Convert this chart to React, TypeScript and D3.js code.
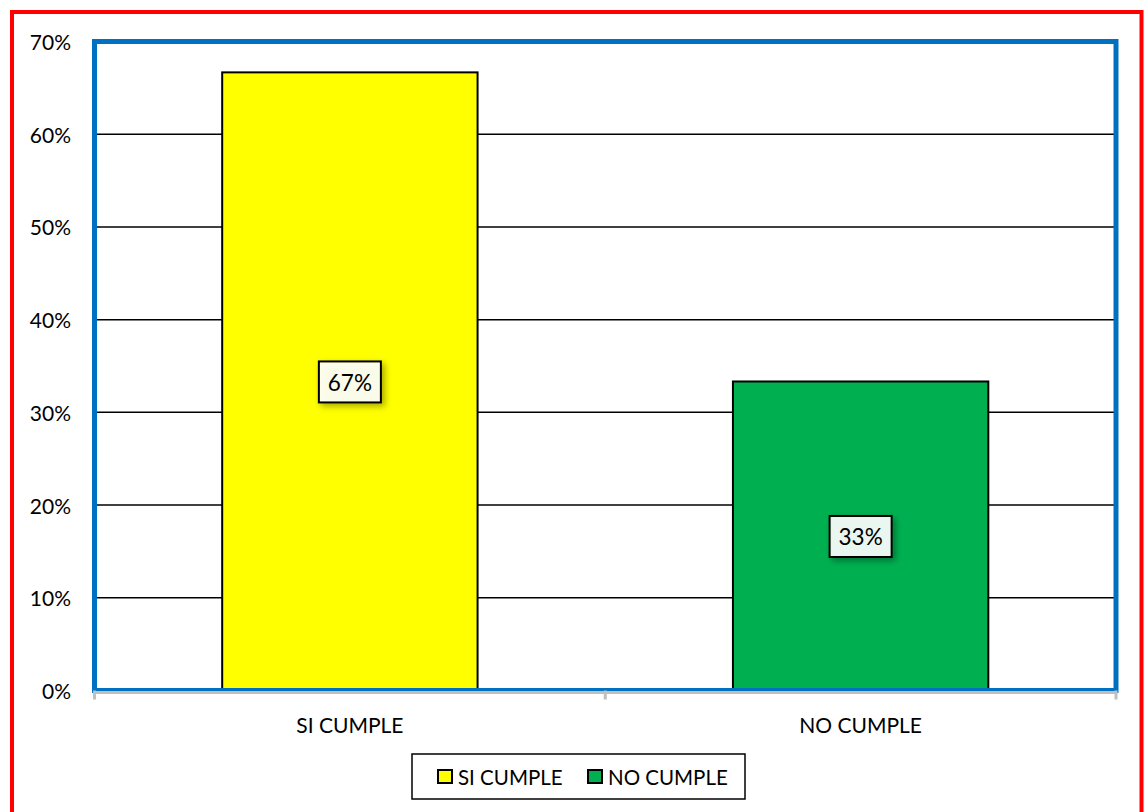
import React from "react";
import * as d3 from "d3";

const categories = ["SI CUMPLE", "NO CUMPLE"];
const values = [0.6667, 0.3333];
const colors = ["#FFFF00", "#00B050"];
const yTicks = [0, 0.1, 0.2, 0.3, 0.4, 0.5, 0.6, 0.7];

const W = 1144;
const H = 812;
const plot = { left: 94.5, right: 1116, top: 41.5, bottom: 690.5 };
const FONT = "Lato, 'Open Sans', sans-serif";

export default function App() {
  const x = d3
    .scaleBand<string>()
    .domain(categories)
    .range([plot.left, plot.right])
    .paddingInner(0.5)
    .paddingOuter(0.25);
  const xOuter = d3.scaleBand<string>().domain(categories).range([plot.left, plot.right]);
  const y = d3.scaleLinear().domain([0, 0.7]).range([plot.bottom, plot.top]);
  const fmt = d3.format(".0%");
  const boundaries = [plot.left, ...categories.map((c) => (xOuter(c) as number) + xOuter.bandwidth())];

  const legendX = 412;
  const legendY = 754;
  const legendItems = [
    { name: categories[0], color: colors[0], sx: 438, tx: 458 },
    { name: categories[1], color: colors[1], sx: 588, tx: 608 },
  ];

  return (
    <div style={{ position: "fixed", left: 0, top: 0 }}>
      <svg width={W} height={H} style={{ display: "block", background: "#fff" }}>
        <defs>
          <filter id="sh" x="-30%" y="-30%" width="160%" height="160%">
            <feDropShadow dx="3" dy="3" stdDeviation="3" floodColor="#000" floodOpacity="0.35" />
          </filter>
        </defs>
        <rect x={12} y={12} width={1129.5} height={830} fill="none" stroke="#FF0000" strokeWidth={4} />
        {yTicks.slice(1, -1).map((t) => (
          <line key={t} x1={plot.left} x2={plot.right} y1={y(t)} y2={y(t)} stroke="#000" strokeWidth={1.5} />
        ))}
        {categories.map((c, i) => (
          <rect
            key={c}
            x={x(c)}
            y={y(values[i])}
            width={x.bandwidth()}
            height={y(0) - y(values[i])}
            fill={colors[i]}
            stroke="#000"
            strokeWidth={2}
          />
        ))}
        <rect
          x={plot.left}
          y={plot.top}
          width={plot.right - plot.left}
          height={plot.bottom - plot.top}
          fill="none"
          stroke="#0070C0"
          strokeWidth={5}
        />
        <line x1={plot.left} x2={plot.right} y1={plot.bottom + 2} y2={plot.bottom + 2} stroke="#BFBFBF" strokeWidth={3} />
        {boundaries.map((b, i) => (
          <line key={i} x1={b} x2={b} y1={plot.bottom} y2={plot.bottom + 9} stroke="#BFBFBF" strokeWidth={3} />
        ))}
        {yTicks.map((t) => (
          <text
            key={t}
            x={71}
            y={y(t)}
            textAnchor="end"
            dominantBaseline="central"
            fontFamily={FONT}
            fontSize={21}
            fill="#000"
          >
            {fmt(t)}
          </text>
        ))}
        {categories.map((c) => (
          <text
            key={c}
            x={(xOuter(c) as number) + xOuter.bandwidth() / 2}
            y={724}
            textAnchor="middle"
            dominantBaseline="central"
            fontFamily={FONT}
            fontSize={21}
            fill="#000"
          >
            {c}
          </text>
        ))}
        {categories.map((c, i) => {
          const cx = (x(c) as number) + x.bandwidth() / 2;
          const cy = (y(values[i]) + y(0)) / 2;
          return (
            <g key={c}>
              <rect
                x={cx - 31}
                y={cy - 20}
                width={62}
                height={41}
                fill="#FFFFFF"
                fillOpacity={0.9}
                stroke="#000"
                strokeWidth={2}
                filter="url(#sh)"
              />
              <text
                x={cx}
                y={cy + 1}
                textAnchor="middle"
                dominantBaseline="central"
                fontFamily={FONT}
                fontSize={22.5}
                fill="#000"
              >
                {fmt(values[i])}
              </text>
            </g>
          );
        })}
        <rect x={legendX} y={legendY} width={333} height={45} fill="#fff" stroke="#000" strokeWidth={1.5} />
        {legendItems.map((it) => (
          <g key={it.name}>
            <rect x={it.sx} y={770} width={14} height={13} fill={it.color} stroke="#000" strokeWidth={2} />
            <text x={it.tx} y={777} dominantBaseline="central" fontFamily={FONT} fontSize={20.5} fill="#000">
              {it.name}
            </text>
          </g>
        ))}
      </svg>
    </div>
  );
}
